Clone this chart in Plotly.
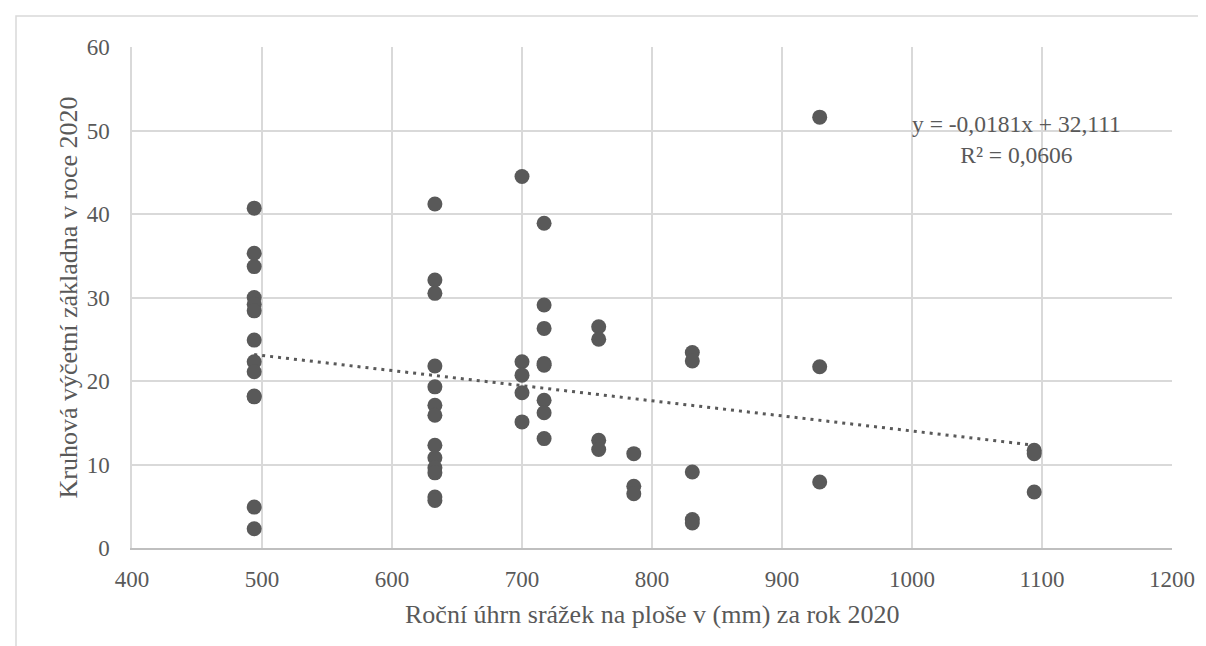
import plotly.graph_objects as go

# Data
precip_494 = [494] * 13
basal_494 = [40.7, 35.3, 33.7, 30.0, 29.2, 28.4, 24.9, 22.3, 21.1, 18.1, 4.9, 2.3, 18.2]
precip_633 = [633] * 13
basal_633 = [41.2, 32.1, 30.5, 21.8, 19.3, 17.1, 15.9, 12.3, 10.8, 9.6, 9.0, 6.1, 5.7]
precip_700 = [700] * 5
basal_700 = [44.5, 22.3, 20.7, 18.6, 15.1]
precip_717 = [717] * 8
basal_717 = [38.9, 29.1, 26.3, 22.1, 21.9, 17.7, 16.2, 13.1]
precip_759 = [759] * 4
basal_759 = [26.5, 25.0, 12.9, 11.8]
precip_786 = [786] * 3
basal_786 = [11.3, 7.4, 6.5]
precip_831 = [831] * 5
basal_831 = [23.4, 22.4, 9.1, 3.4, 3.0]
precip_929 = [929] * 3
basal_929 = [51.6, 21.7, 7.9]
precip_1094 = [1094] * 3
basal_1094 = [11.7, 11.3, 6.7]

trend_slope = -0.0181
trend_intercept = 32.111
r_squared = "0,0606"

x_ticks = [400, 500, 600, 700, 800, 900, 1000, 1100, 1200]
y_ticks = [0, 10, 20, 30, 40, 50, 60]

x_title = "Roční úhrn srážek na ploše v (mm) za rok 2020"
y_title = "Kruhová výčetní základna v roce 2020"
eq_text = "y = -0,0181x + 32,111<br>R² = " + r_squared

xs = (precip_494 + precip_633 + precip_700 + precip_717 + precip_759
      + precip_786 + precip_831 + precip_929 + precip_1094)
ys = (basal_494 + basal_633 + basal_700 + basal_717 + basal_759
      + basal_786 + basal_831 + basal_929 + basal_1094)

FONT = "Liberation Serif, Times New Roman, serif"
GREY = "#595959"
GRID = "#d9d9d9"
TICK_SIZE = 23
TITLE_SIZE = 26
EQ_SIZE = 23.5

fig = go.Figure()

tx = [min(xs), max(xs)]
ty = [trend_intercept + trend_slope * v for v in tx]
fig.add_trace(go.Scatter(
    x=tx, y=ty, mode="lines",
    line=dict(color=GREY, width=3, dash="3px,5px"),
    hoverinfo="skip", showlegend=False,
))

fig.add_trace(go.Scatter(
    x=xs, y=ys, mode="markers",
    marker=dict(color=GREY, size=15, line=dict(width=0)),
    showlegend=False,
))

fig.update_layout(
    width=1206, height=646,
    margin=dict(l=124, r=42, t=39, b=106),
    paper_bgcolor="white", plot_bgcolor="white",
    font=dict(family=FONT, color=GREY, size=TICK_SIZE),
    xaxis=dict(
        range=[400, 1200], tickvals=x_ticks, ticktext=[str(v) for v in x_ticks],
        showgrid=True, gridcolor=GRID, gridwidth=1.5,
        showline=True, linecolor="#bfbfbf", linewidth=1.5,
        zeroline=False, ticks="", ticklabelstandoff=10,
        tickfont=dict(family=FONT, size=TICK_SIZE, color=GREY),
    ),
    yaxis=dict(
        range=[0, 60], tickvals=y_ticks, ticktext=[str(v) for v in y_ticks],
        showgrid=True, gridcolor=GRID, gridwidth=1.5,
        showline=True, linecolor=GRID, linewidth=1.5,
        zeroline=False, ticks="", ticklabelstandoff=16,
        tickfont=dict(family=FONT, size=TICK_SIZE, color=GREY),
    ),
    annotations=[
        dict(text=eq_text, x=1080, y=48.9, xref="x", yref="y",
             xanchor="center", yanchor="middle", align="center",
             showarrow=False, font=dict(family=FONT, size=EQ_SIZE, color=GREY)),
        dict(text=x_title, x=0.5, y=(540 - 606) / 501, xref="paper", yref="paper",
             xanchor="center", yanchor="middle", showarrow=False,
             font=dict(family=FONT, size=TITLE_SIZE, color=GREY)),
        dict(text=y_title, x=(60 - 124) / 1040, y=0.5, xref="paper", yref="paper",
             xanchor="center", yanchor="middle", textangle=-90, showarrow=False,
             font=dict(family=FONT, size=TITLE_SIZE, color=GREY)),
    ],
    shapes=[
        dict(type="rect", xref="paper", yref="paper",
             x0=(8 - 124) / 1040, x1=(1197.5 - 124) / 1040,
             y0=(540 - 700) / 501, y1=(540 - 8) / 501,
             line=dict(color=GRID, width=1.5), fillcolor="rgba(0,0,0,0)",
             layer="below"),
    ],
)

fig.write_html("out.html")
